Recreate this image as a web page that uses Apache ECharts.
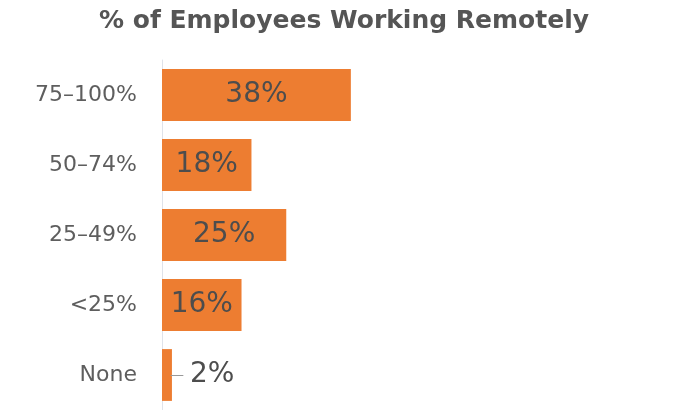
<!DOCTYPE html>
<html><head><meta charset="utf-8">
<script src="https://cdn.jsdelivr.net/npm/echarts@6/dist/echarts.min.js"></script>
<style>html,body{margin:0;padding:0;background:#fff}#c{width:688px;height:410px}</style>
</head><body><div id="c"></div>
<script>
const categories = ['75\u2013100%', '50\u201374%', '25\u201349%', '<25%', 'None'];
const values = [38, 18, 25, 16, 2];
const titleText = '% of Employees Working Remotely';

const chart = echarts.init(document.getElementById('c'), null, {renderer: 'canvas'});
const data = values.map((v, i) => {
  const item = {value: v};
  if (v < 5) {
    item.label = {
      position: 'right', distance: -2,
      formatter: '{d|\u2014}{v|' + v + '%}',
      rich: {
        d: {color: '#999999', fontSize: 14, padding: [0, 6, 0, 0], fontFamily: 'DejaVu Sans'},
        v: {color: '#4d4d4d', fontSize: 28, fontFamily: 'DejaVu Sans'}
      }
    };
  }
  return item;
});
chart.setOption({
  animation: false,
  title: {
    text: titleText, left: 'center', top: 4,
    textStyle: {fontFamily: 'DejaVu Sans', fontWeight: 'bold', fontSize: 25, color: '#555555'}
  },
  grid: {left: 162, right: 29, top: 60, bottom: -3, containLabel: false},
  xAxis: {type: 'value', min: 0, max: 100, show: false},
  yAxis: {
    type: 'category', data: categories, inverse: true,
    axisLine: {show: true, lineStyle: {color: '#dfe3ea', width: 1}},
    axisTick: {show: false},
    axisLabel: {color: '#5e5e5e', fontSize: 22, fontFamily: 'DejaVu Sans', margin: 25}
  },
  series: [{
    type: 'bar', data: data, barCategoryGap: '26%',
    itemStyle: {color: '#ED7D31'},
    label: {
      show: true, position: 'inside', formatter: '{c}%',
      color: '#4d4d4d', fontSize: 28, fontFamily: 'DejaVu Sans'
    }
  }]
});
</script></body></html>
